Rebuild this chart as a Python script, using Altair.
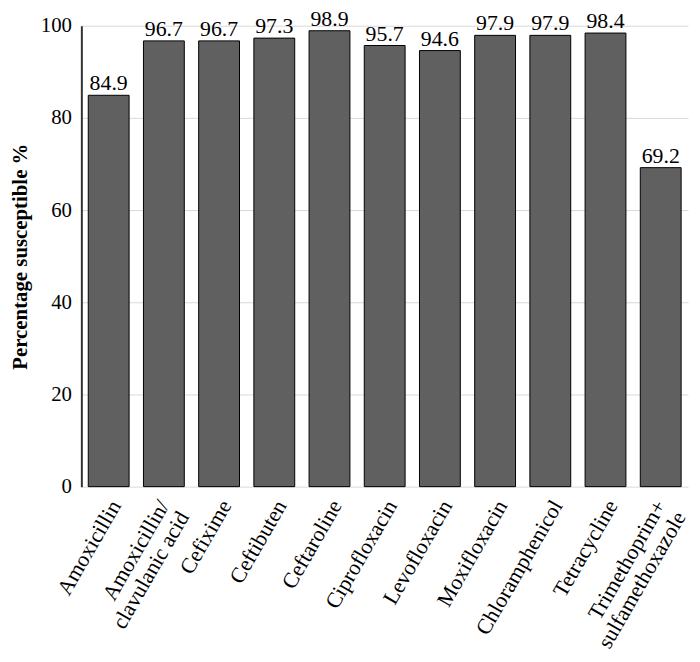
import altair as alt
import pandas as pd

drugs = ["Amoxicillin", "Amoxicillin/\nclavulanic acid", "Cefixime", "Ceftibuten",
         "Ceftaroline", "Ciprofloxacin", "Levofloxacin", "Moxifloxacin",
         "Chloramphenicol", "Tetracycline", "Trimethoprim+\nsulfamethoxazole"]
pct = [84.9, 96.7, 96.7, 97.3, 98.9, 95.7, 94.6, 97.9, 97.9, 98.4, 69.2]
y_ticks = [0, 20, 40, 60, 80, 100]

df = pd.DataFrame({"drug": drugs, "pct": pct})
FONT = "Liberation Serif"

x = alt.X("drug:N", sort=drugs, title=None,
          scale=alt.Scale(paddingInner=0.26, paddingOuter=0.125),
          axis=alt.Axis(labelAngle=-60, labelFont=FONT, labelFontSize=22,
                        labelColor="black", labelExpr="split(datum.label, '\\n')",
                        ticks=False, domain=False, labelPadding=15,
                        labelOffset=alt.condition("indexof(datum.value, '\\n') >= 0",
                                                  alt.value(0), alt.value(7)),
                        labelLimit=400, labelLineHeight=23))
y = alt.Y("pct:Q", title="Percentage susceptible %",
          scale=alt.Scale(domain=[0, 100], nice=False),
          axis=alt.Axis(values=y_ticks, labelFont=FONT, labelFontSize=21,
                        labelColor="black", titleFont=FONT, titleFontSize=21,
                        titleFontWeight="bold", titleColor="black",
                        ticks=False, domainColor="#333333", domainWidth=2,
                        gridColor="#d9d9d9", labelPadding=10, titlePadding=10))

base = alt.Chart(df)
bars = base.mark_bar(color="#606060", stroke="black", strokeWidth=1).encode(x=x, y=y)
text = base.mark_text(font=FONT, fontSize=22, dy=-5, color="black",
                      baseline="alphabetic").encode(
    x=alt.X("drug:N", sort=drugs), y="pct:Q", text=alt.Text("pct:Q", format=".1f"))

chart = (bars + text).properties(
    width=612, height=465,
    autosize=alt.AutoSizeParams(type="none"),
    padding={"left": 74, "top": 15, "right": 4, "bottom": 166},
).configure_view(stroke=None).configure_axis(labelOverlap=False)

chart.save("out.html", embed_options={"renderer": "svg", "actions": False})
